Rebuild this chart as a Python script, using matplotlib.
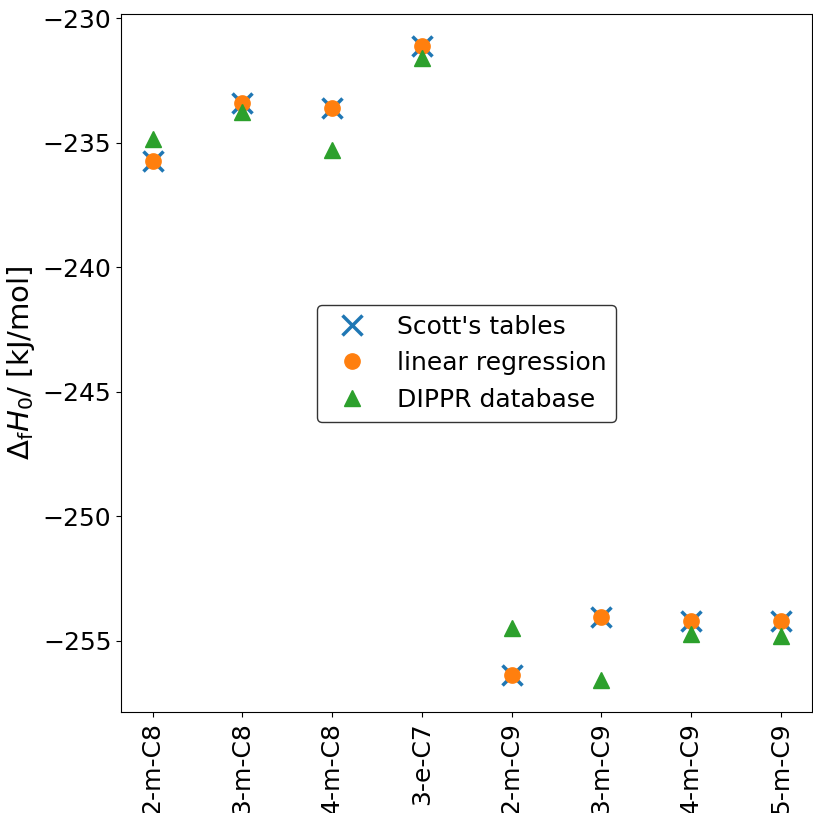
import numpy as np
import matplotlib.pyplot as plt

# molecules on the x axis
molecules = ["2-m-C8", "3-m-C8", "4-m-C8", "3-e-C7",
             "2-m-C9", "3-m-C9", "4-m-C9", "5-m-C9"]

# enthalpy of formation values [kJ/mol]
scott = [-235.75, -233.4, -233.6, -231.1, -256.4, -254.05, -254.2, -254.2]
linreg = [-235.75, -233.4, -233.6, -231.1, -256.4, -254.05, -254.2, -254.2]
dippr = [-234.85, -233.75, -235.3, -231.6, -254.5, -256.6, -254.75, -254.8]

plt.rcParams['font.size'] = 18

fig = plt.figure(figsize=(8.13, 8.13), dpi=100)
ax = fig.add_subplot(111)
fig.subplots_adjust(left=0.149, right=0.999, top=0.983, bottom=0.124)

x = np.arange(len(molecules))
ax.plot(x, scott, 'x', color='tab:blue', markersize=14, mew=2.5, label="Scott's tables")
ax.plot(x, linreg, 'o', color='tab:orange', markersize=11, label="linear regression")
ax.plot(x, dippr, '^', color='tab:green', markersize=11, label="DIPPR database")

ax.set_xticks(x)
ax.set_xticklabels(molecules, rotation=90)
ax.set_ylabel(r"$\Delta_\mathrm{f}H_0$/ [kJ/mol]", fontsize=21)
ax.set_yticks([-230, -235, -240, -245, -250, -255])

leg = ax.legend(loc='center', edgecolor='black')

fig.savefig("out.png", dpi=100)
